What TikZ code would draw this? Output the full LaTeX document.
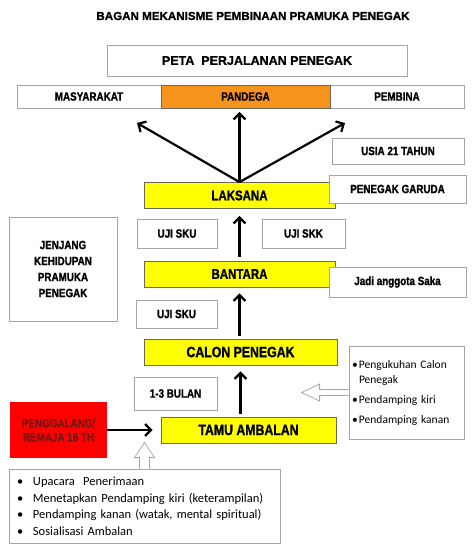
\documentclass[tikz,border=0pt]{standalone}
\usepackage{fontspec}
\setmainfont{Liberation Sans}[BoldFont={Liberation Sans Bold}]
\newfontfamily\narrowfont{Liberation Sans Bold}[FakeStretch=0.82,FakeBold=1.2]
\newfontfamily\headfont{Liberation Sans Bold}[FakeBold=1]
\newfontfamily\listfont{Carlito}
\usetikzlibrary{arrows.meta}
\definecolor{stageyellow}{RGB}{255,255,0}
\definecolor{pandegaorange}{RGB}{247,148,29}
\definecolor{boxgray}{RGB}{165,165,165}
\definecolor{stageedge}{RGB}{105,105,85}
\definecolor{entryred}{RGB}{255,0,0}
\definecolor{entrytext}{RGB}{120,20,20}
\tikzset{
  stage/.style={draw=stageedge,fill=stageyellow,line width=0.8pt,minimum height=26pt,inner sep=0pt,
    font=\narrowfont\fontsize{14}{16}\selectfont},
  note/.style={draw=boxgray,fill=white,line width=0.8pt,inner sep=0pt,align=center,
    font=\narrowfont\fontsize{12}{16}\selectfont},
  upline/.style={line width=2.2pt,-{Straight Barb[length=6pt,width=12pt]}},
  hollow/.style={draw=boxgray,line width=0.8pt,line join=miter}
}
\newcommand{\stagebox}[5]{\node[stage,minimum width=#4pt] (#1) at ( #2 , #3 ) {#5};}
\newcommand{\notebox}[6]{\node[note,minimum width=#4pt,minimum height=#5pt] (#1) at ( #2 , #3 ) {#6};}
\newcommand{\dotitem}[1]{\makebox[#1][l]{\textbullet}}
\begin{document}
\begin{tikzpicture}[x=1pt,y=-1pt]
    \useasboundingbox (0,0) rectangle (474,552);
    \fill[white] (0,0) rectangle (474,552);

    % title
    \node[font=\headfont\fontsize{11.6}{13}\selectfont] (title) at (253,16) {BAGAN MEKANISME PEMBINAAN PRAMUKA PENEGAK};
    \node[note,minimum width=300pt,minimum height=31pt,font=\headfont\fontsize{12.5}{14}\selectfont] (peta) at (257,60.5) {PETA\ \ PERJALANAN PENEGAK};

    % top row
    \notebox{masyarakat}{89}{96.5}{144}{23}{MASYARAKAT}
    \notebox{pembina}{397}{96.5}{134}{23}{PEMBINA}
    \node[note,fill=pandegaorange,draw=stageedge,minimum width=169pt,minimum height=23pt] (pandega) at (245.5,96.5) {PANDEGA};

    % stages
    \stagebox{laksana}{239.5}{195.5}{191}{LAKSANA}
    \stagebox{bantara}{239.5}{274}{191}{BANTARA}
    \stagebox{calon}{240.5}{352}{193}{\fontsize{15}{17}\selectfont CALON PENEGAK}
    \stagebox{tamu}{248.5}{430}{175}{\fontsize{15}{17}\selectfont TAMU AMBALAN}

    % notes
    \notebox{usia}{398}{151}{132}{26}{USIA 21 TAHUN}
    \notebox{garuda}{397.5}{189}{137}{28}{PENEGAK GARUDA}
    \notebox{skuA}{177}{233.5}{80}{29}{UJI SKU}
    \notebox{skk}{303.5}{233.5}{83}{29}{UJI SKK}
    \notebox{saka}{397.5}{282}{137}{30}{Jadi anggota Saka}
    \notebox{skuB}{176.5}{314}{81}{28}{UJI SKU}
    \notebox{bulan}{175.5}{393.5}{83}{33}{1-3 BULAN}
    \notebox{jenjang}{63}{269}{108}{104}{JENJANG\\KEHIDUPAN\\PRAMUKA\\PENEGAK}
    \node[note,draw=none,fill=entryred,text=entrytext,minimum width=97pt,minimum height=56pt,
      font=\narrowfont\fontsize{12}{14}\selectfont] (entry) at (58.5,430) {PENGGALANG/\\REMAJA 16 TH};

    % lists
    \node[note,align=left,text width=109pt,inner xsep=3pt,minimum height=93pt,
      font=\listfont\fontsize{11.5}{15}\selectfont] (rlist) at (406.5,392.5)
      {\dotitem{7pt}Pengukuhan Calon\\\hspace*{7pt}Penegak\\[5pt]\dotitem{7pt}Pendamping kiri\\[5pt]\dotitem{7pt}Pendamping kanan};
    \node[note,align=left,text width=255pt,inner xsep=8pt,minimum height=74pt,
      font=\listfont\fontsize{12.5}{16.5}\selectfont] (blist) at (144.5,506)
      {\dotitem{16pt}Upacara\ \ Penerimaan\\\dotitem{16pt}Menetapkan Pendamping kiri (keterampilan)\\
       \dotitem{16pt}Pendamping kanan (watak, mental spiritual)\\\dotitem{16pt}Sosialisasi Ambalan};

    % arrows
    \coordinate (toMasy) at (137,123);
    \coordinate (toPemb) at (345,123);
    \draw[upline] (laksana.north) -- (toMasy);
    \draw[upline] (laksana.north) -- (toPemb);
    \draw[upline,shorten >=3.5pt] (laksana.north) -- (laksana.north |- pandega.south);
    \draw[upline,shorten <=4pt,shorten >=7pt] (bantara.north) -- (laksana.south);
    \draw[upline,shorten <=3pt,shorten >=6pt] (bantara.south |- calon.north) -- (bantara.south);
    \draw[upline,shorten <=3pt,shorten >=6pt] (calon.south |- tamu.north) -- (calon.south);
    \draw[upline,shorten >=8pt] (entry.east) -- (tamu.west);

    % hollow arrows
    \draw[hollow] ([yshift=3pt]rlist.west) -- ++(-29,0) -- ++(0,-5.5) -- ++(-18,8.5) -- ++(18,8.5) -- ++(0,-5.5) -- ++(29,0);
    \draw[hollow] ([xshift=-5pt]blist.north) -- ++(0,-11) -- ++(-5,0) -- ++(10,-15) -- ++(10,15) -- ++(-5,0) -- ++(0,11);
\end{tikzpicture}
\end{document}
